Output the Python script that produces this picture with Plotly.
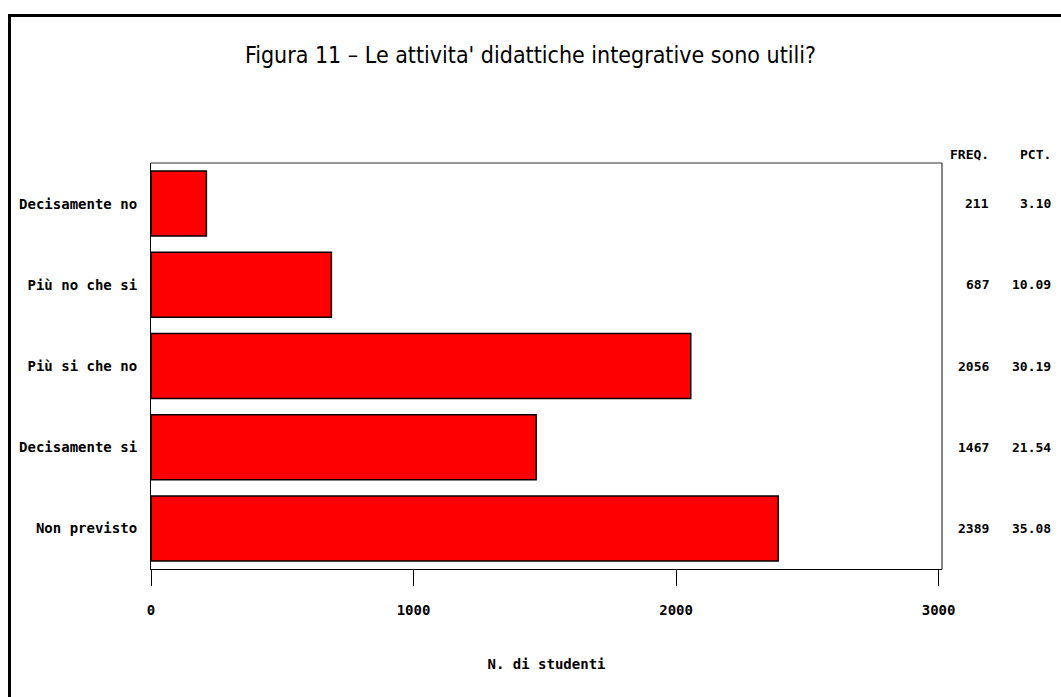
import plotly.graph_objects as go

categories = ["Decisamente no", "Più no che si", "Più si che no", "Decisamente si", "Non previsto"]
freq = [211, 687, 2056, 1467, 2389]
pct = [3.10, 10.09, 30.19, 21.54, 35.08]
x_ticks = [0, 1000, 2000, 3000]

L, R, T, B = 151, 942, 163, 569
W, H = 1061, 697
pw, ph = R - L, B - T

def px(x):
    return (x - L) / pw

def py(y):
    return (B - y) / ph

mono = "DejaVu Sans Mono"

def b(s):
    return f"<b>{s}</b>"

fig = go.Figure()
fig.add_trace(go.Bar(
    x=freq, y=categories, orientation="h",
    marker=dict(color="#FF0000", line=dict(color="#000000", width=1.5)),
    hoverinfo="x+y",
))

annotations = []
annotations.append(dict(text=b("FREQ."), x=px(991), y=py(154), xref="paper", yref="paper",
                        xanchor="right", yanchor="middle", showarrow=False,
                        font=dict(family=mono, size=13, color="#000")))
annotations.append(dict(text=b("PCT."), x=px(1053), y=py(154), xref="paper", yref="paper",
                        xanchor="right", yanchor="middle", showarrow=False,
                        font=dict(family=mono, size=13, color="#000")))
for c, f, p in zip(categories, freq, pct):
    annotations.append(dict(text=b(str(f)), x=px(991), y=c, xref="paper", yref="y",
                            xanchor="right", yanchor="middle", showarrow=False,
                            font=dict(family=mono, size=13, color="#000")))
    annotations.append(dict(text=b(f"{p:.2f}"), x=px(1053), y=c, xref="paper", yref="y",
                            xanchor="right", yanchor="middle", showarrow=False,
                            font=dict(family=mono, size=13, color="#000")))

shapes = [
    # outer frame (extends beyond right/bottom edges)
    dict(type="rect", xref="paper", yref="paper", x0=px(9.5), y0=py(15.5), x1=px(1200), y1=py(800),
         line=dict(color="#000", width=3), fillcolor="rgba(0,0,0,0)", layer="below"),
    # plot box top and right
    dict(type="line", xref="paper", yref="paper", x0=0, y0=1, x1=1, y1=1,
         line=dict(color="#333", width=1.2)),
    dict(type="line", xref="paper", yref="paper", x0=1, y0=0, x1=1, y1=1,
         line=dict(color="#333", width=1.2)),
]

fig.update_layout(
    width=W, height=H,
    margin=dict(l=L, r=W - R, t=T, b=H - B, pad=0),
    paper_bgcolor="white", plot_bgcolor="white",
    showlegend=False,
    bargap=0.2,
    title=dict(text="Figura 11 – Le attivita' didattiche integrative sono utili?",
               x=0.5, xanchor="center", xref="container", y=1 - 55 / H, yanchor="middle",
               yref="container",
               font=dict(family="DejaVu Sans Condensed, Liberation Sans", size=23, color="#000")),
    xaxis=dict(range=[0, 3013], tickvals=x_ticks, ticktext=[b(v) for v in x_ticks],
               showgrid=False, zeroline=False, showline=True, linecolor="#000", linewidth=1.2,
               ticks="outside", ticklen=16, tickcolor="#000", tickwidth=1,
               ticklabelstandoff=12,
               tickfont=dict(family=mono, size=14, color="#000"),
               title=dict(text=b("N. di studenti"), standoff=42,
                          font=dict(family=mono, size=14, color="#000"))),
    yaxis=dict(categoryorder="array", categoryarray=categories, autorange="reversed",
               showgrid=False, zeroline=False, showline=True, linecolor="#000", linewidth=1.2,
               ticks="", ticklabelstandoff=10,
               tickvals=categories, ticktext=[b(c) for c in categories],
               tickfont=dict(family=mono, size=14, color="#000")),
    annotations=annotations,
    shapes=shapes,
)

fig.write_html("out.html", post_script="document.body.style.margin='0';",
               config={"displayModeBar": False})
